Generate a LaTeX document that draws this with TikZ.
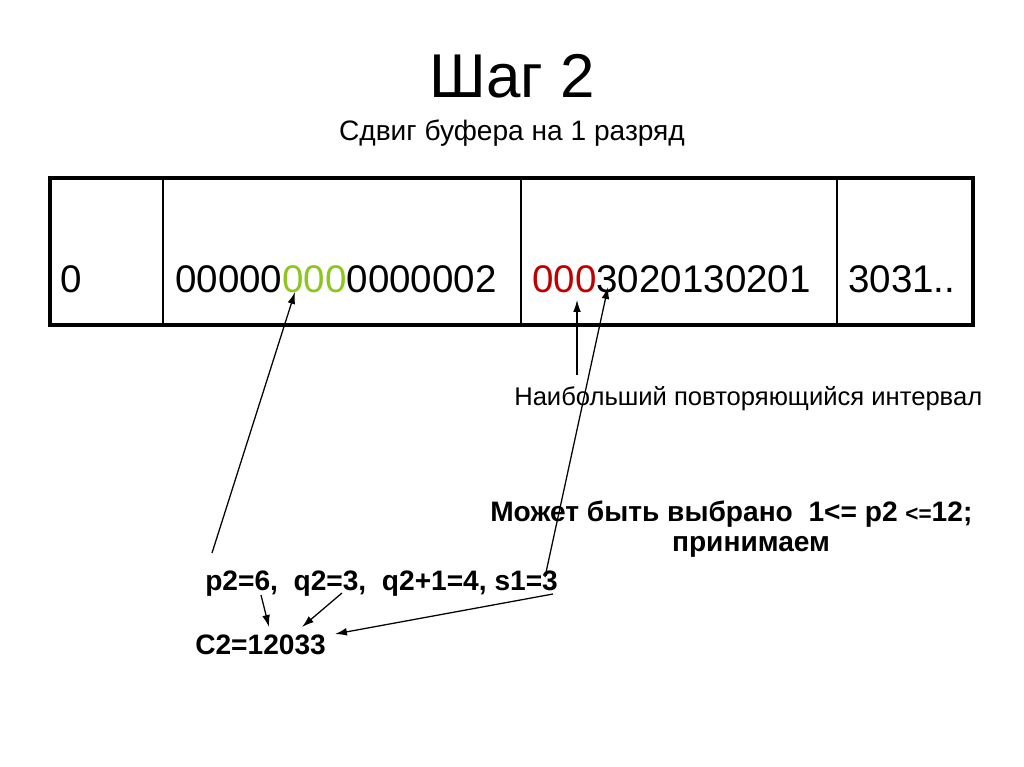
\documentclass[tikz,border=0pt]{standalone}
\usepackage{fontspec}
\setmainfont{Liberation Sans}
\usetikzlibrary{arrows.meta}
\definecolor{colG}{RGB}{140,198,30}
\definecolor{colR}{RGB}{192,0,0}

\begin{document}
\begin{tikzpicture}[x=0.025cm,y=-0.025cm,
  cell/.style={font=\fontsize{27.4}{32}\selectfont, anchor=base west, inner sep=0pt},
  note/.style={font=\fontsize{20}{24}\selectfont, inner sep=0pt},
  bnote/.style={font=\fontsize{20}{24}\selectfont\bfseries, inner sep=0pt},
  a/.style={-{Latex[length=8.5pt,width=5.5pt]}, line width=0.9pt}
]
\useasboundingbox (0,0) rectangle (1024,767);
% Title
\node[font=\fontsize{44}{50}\selectfont, anchor=base, inner sep=0pt] (title)
  at (512,98) {Шаг 2};
\node[note, anchor=base] (sub) at (512,141) {Сдвиг буфера на 1 разряд};

% Buffer
\draw[line width=1.4pt] (163,178) -- (163,325) (521,178) -- (521,325)
  (837,178) -- (837,325);
\draw[line width=2.2pt] (50,178) rectangle (973,325);
\node[cell] (c0) at (60,292) {0};
\node[cell] (c1) at (175,292) {00000\textcolor{colG}{000}0000002};
\node[cell] (c2) at (532,292) {\textcolor{colR}{000}3020130201};
\node[cell] (c3) at (848,292) {3031..};

% Notes
\node[note, anchor=base west, font=\fontsize{18.2}{22}\selectfont] (lab)
  at (514,405) {Наибольший повторяющийся интервал};
\node[bnote, anchor=base west] (may) at (490,521)
  {Может быть выбрано\ \ 1<= p2 {\fontsize{16}{20}\selectfont<=}12;};
\node[bnote, anchor=base] (acc) at (751,551) {принимаем};
\node[bnote, anchor=base west] (vals) at (205,590)
  {p2=6,\ \ q2=3,\ \ q2+1=4, s1=3};
\node[bnote, anchor=base west] (res) at (195,654) {C2=12033};

% Arrow ends
\coordinate (grn) at (295,292);
\coordinate (red) at (577,300);
\coordinate (nxt) at (608,287);
\coordinate (labtop) at (577,375);
\coordinate (p2up) at (212,553);
\coordinate (s1up) at (545,577);
\coordinate (p2dn) at (261,595);
\coordinate (q2dn) at (342,593);
\coordinate (s1dn) at (553,594);
\coordinate (resA) at (269,627);
\coordinate (resB) at (302,627);
\coordinate (resC) at (335,634);

% Arrows
\draw[a] (p2up) -- (grn);
\draw[a] (labtop) -- (red);
\draw[a] (s1up) -- (nxt);
\draw[a] (p2dn) -- (resA);
\draw[a] (q2dn) -- (resB);
\draw[a] (s1dn) -- (resC);
\end{tikzpicture}
\end{document}
